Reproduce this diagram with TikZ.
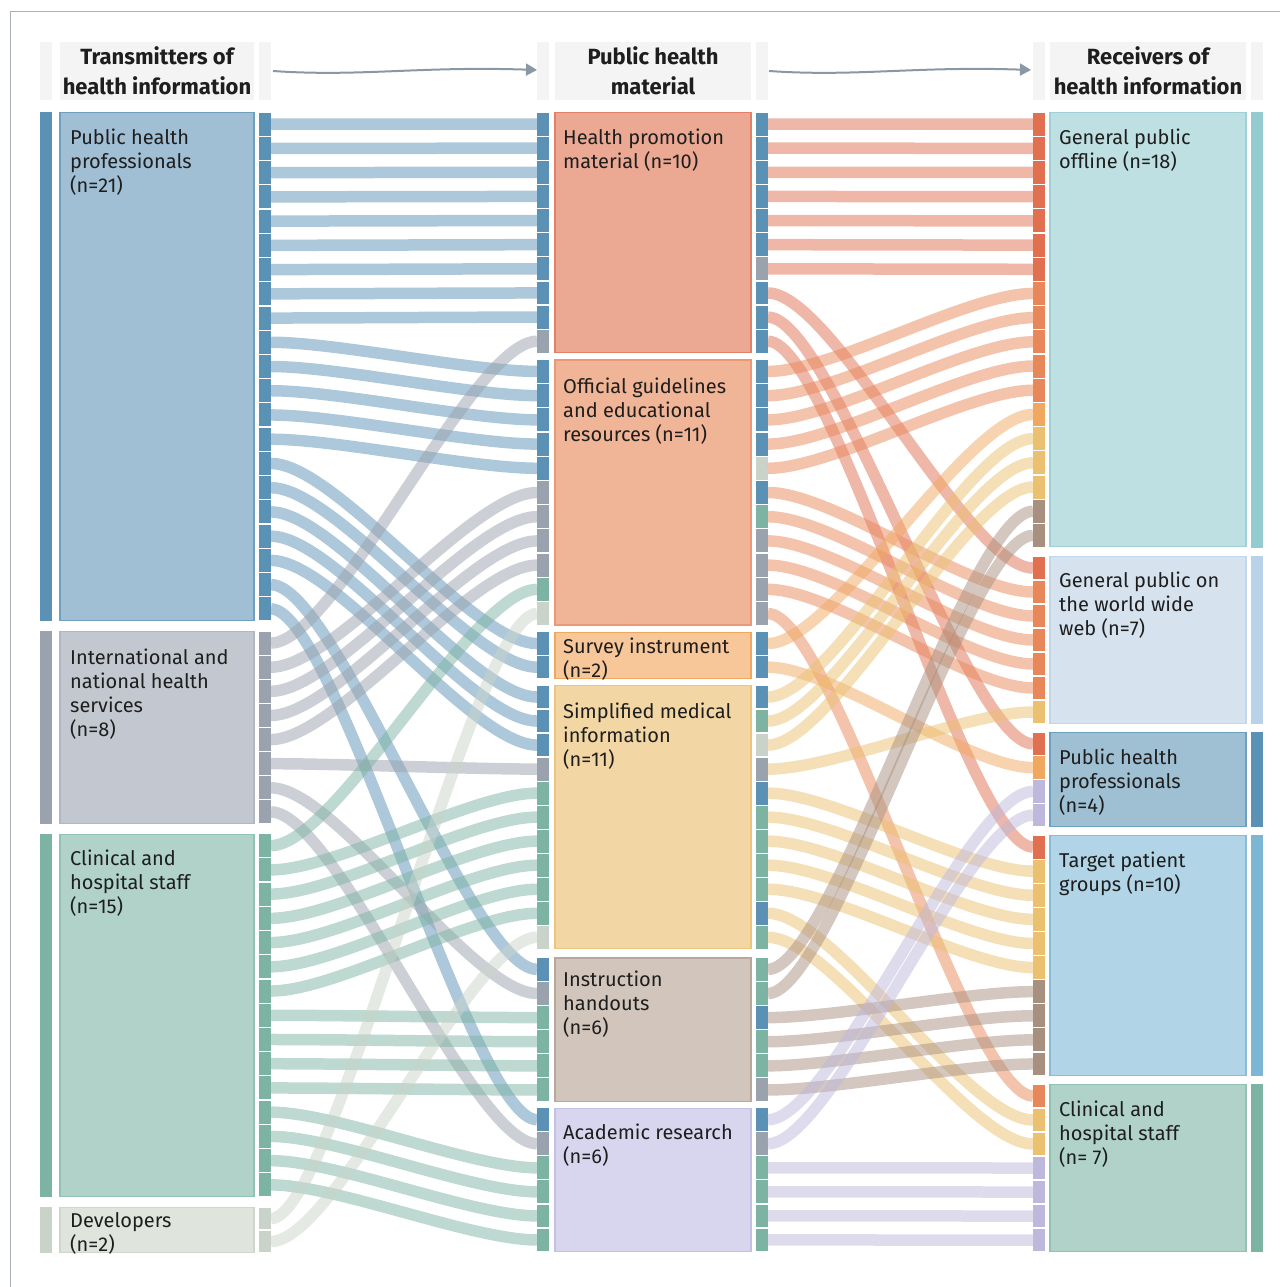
\documentclass[tikz,border=0pt]{standalone}
\usepackage{fontspec}
\setmainfont{Fira Sans}
\newfontfamily\hdrfont{Fira Sans}
\usetikzlibrary{calc,arrows.meta}
\definecolor{cB}{HTML}{5B91B5}
\definecolor{cG}{HTML}{9AA2AD}
\definecolor{cC}{HTML}{7DB3A3}
\definecolor{cD}{HTML}{C9D3C9}
\definecolor{cHP}{HTML}{E07050}
\definecolor{cOG}{HTML}{E8875A}
\definecolor{cSV}{HTML}{F0A860}
\definecolor{cSM}{HTML}{EBC070}
\definecolor{cIN}{HTML}{A89080}
\definecolor{cAC}{HTML}{BDB8DC}
\definecolor{txtc}{HTML}{1E1E1E}
\definecolor{hdrc}{HTML}{F4F4F4}
\definecolor{arrc}{HTML}{8A98A6}
\definecolor{framec}{HTML}{A9B0B8}
\definecolor{barGPO}{HTML}{93CBD0}
\definecolor{barGPW}{HTML}{BAD2E8}
\definecolor{barTPG}{HTML}{7DB5D4}
\newcommand\bfnt{\fontsize{20}{24}\selectfont}
\newcommand\hfnt{\hdrfont\bfseries\fontsize{22}{30}\selectfont}
\tikzset{
  flw/.style={draw=#1, draw opacity=0.5, line width=11.5},
  btxt/.style={anchor=base west, inner sep=0, font=\bfnt, text=txtc},
  htxt/.style={anchor=base, inner sep=0, font=\hfnt, text=txtc},
  hdrbg/.style={fill=hdrc},
  harrow/.style={draw=arrc, line width=2, -{Triangle[length=11,width=12]}},
  boxs/.style={line width=1.3},
}
% name, top, bottom, n, x1, x2, xcoord, colours
\newcommand\ports[8]{%
  \pgfmathsetmacro\ph{(#3-#2)/#4}%
  \foreach \c [count=\i] in {#8} {%
    \fill[fill=\c] (#5,{#2+(\i-1)*\ph+0.6}) rectangle (#6,{#2+\i*\ph-0.6});
    \coordinate (#1-\i) at (#7,{#2+(\i-0.5)*\ph});
  }}
\newcommand\fl[3]{\draw[flw=#1] (#2) .. controls ($(#2)+(65,0)$) and ($(#3)+(-65,0)$) .. (#3);}
\newcommand\btext[4]{%
  \foreach \l [count=\k] in {#4} {\node[btxt] (#1-\k) at (#2,{#3+24*(\k-1)}) {\l};}}
\begin{document}
\begin{tikzpicture}[x=1pt,y=-1pt]
\useasboundingbox (0,0) rectangle (1279,1287);
% frame
\draw[framec, line width=1] (10,1300) -- (10,12) -- (1285,12);
% header backgrounds
\foreach \a/\b in {40/52,60/254,259/271,537/549,555/751,756/768,1033/1045,1050/1246,1251/1263}
  \fill[hdrbg] (\a,42) rectangle (\b,100);
\node[htxt] (h1a) at (157,65) {Transmitters of};
\node[htxt] (h1b) at (157,95) {health information};
\node[htxt] (h2a) at (653,65) {Public health};
\node[htxt] (h2b) at (653,95) {material};
\node[htxt] (h3a) at (1148,65) {Receivers of};
\node[htxt] (h3b) at (1148,95) {health information};
\coordinate (a1s) at (273,71);
\coordinate (a1e) at (537,70);
\coordinate (a2s) at (769,71);
\coordinate (a2e) at (1031,70);
\draw[harrow] (a1s) .. controls (360,77) and (420,66) .. (a1e);
\draw[harrow] (a2s) .. controls (856,77) and (916,66) .. (a2e);

% ---------- ports ----------
\ports{LA}{112}{621}{21}{259}{271}{271}{cB,cB,cB,cB,cB,cB,cB,cB,cB,cB,cB,cB,cB,cB,cB,cB,cB,cB,cB,cB,cB}
\ports{LB}{631}{824}{8}{259}{271}{271}{cG,cG,cG,cG,cG,cG,cG,cG}
\ports{LC}{833.5}{1197}{15}{259}{271}{271}{cC,cC,cC,cC,cC,cC,cC,cC,cC,cC,cC,cC,cC,cC,cC}
\ports{LD}{1207}{1253}{2}{259}{271}{271}{cD,cD}

\ports{MAi}{112}{353.3}{10}{537}{549}{537}{cB,cB,cB,cB,cB,cB,cB,cB,cB,cG}
\ports{MBi}{359.3}{625.7}{11}{537}{549}{537}{cB,cB,cB,cB,cB,cG,cG,cG,cG,cC,cD}
\ports{MCi}{631.7}{679}{2}{537}{549}{537}{cB,cB}
\ports{MDi}{685}{949.3}{11}{537}{549}{537}{cB,cB,cB,cG,cC,cC,cC,cC,cC,cC,cD}
\ports{MEi}{957.3}{1102}{6}{537}{549}{537}{cB,cG,cC,cC,cC,cC}
\ports{MFi}{1107.7}{1252}{6}{537}{549}{537}{cB,cG,cC,cC,cC,cC}

\ports{MAo}{112}{353.3}{10}{756}{768}{768}{cB,cB,cB,cB,cB,cB,cG,cB,cB,cB}
\ports{MBo}{359.3}{625.7}{11}{756}{768}{768}{cB,cB,cB,cB,cD,cB,cC,cG,cG,cG,cG}
\ports{MCo}{631.7}{679}{2}{756}{768}{768}{cB,cB}
\ports{MDo}{685}{949.3}{11}{756}{768}{768}{cB,cC,cD,cG,cB,cC,cC,cC,cC,cB,cC}
\ports{MEo}{957.3}{1102}{6}{756}{768}{768}{cC,cC,cB,cC,cC,cG}
\ports{MFo}{1107.7}{1252}{6}{756}{768}{768}{cB,cG,cC,cC,cC,cC}

\ports{RA}{112}{547.5}{18}{1033}{1045}{1033}{cHP,cHP,cHP,cHP,cHP,cHP,cHP,cOG,cOG,cOG,cOG,cOG,cSV,cSM,cSM,cSM,cIN,cIN}
\ports{RB}{556}{724}{7}{1033}{1045}{1033}{cHP,cOG,cOG,cOG,cOG,cOG,cSM}
\ports{RC}{732}{827}{4}{1033}{1045}{1033}{cHP,cSV,cAC,cAC}
\ports{RD}{835}{1076}{10}{1033}{1045}{1033}{cHP,cSM,cSM,cSM,cSM,cSM,cIN,cIN,cIN,cIN}
\ports{RE}{1084}{1252}{7}{1033}{1045}{1033}{cOG,cSM,cSM,cAC,cAC,cAC,cAC}

% ---------- stage 1 flows ----------
\foreach \i in {1,...,9} {\fl{cB}{LA-\i}{MAi-\i}}
\foreach \i/\j in {10/1,11/2,12/3,13/4,14/5} {\fl{cB}{LA-\i}{MBi-\j}}
\fl{cB}{LA-15}{MCi-1}
\fl{cB}{LA-16}{MCi-2}
\fl{cB}{LA-17}{MDi-1}
\fl{cB}{LA-18}{MDi-2}
\fl{cB}{LA-19}{MDi-3}
\fl{cB}{LA-20}{MEi-1}
\fl{cB}{LA-21}{MFi-1}
\fl{cG}{LB-1}{MAi-10}
\foreach \i/\j in {2/6,3/7,4/8,5/9} {\fl{cG}{LB-\i}{MBi-\j}}
\fl{cG}{LB-6}{MDi-4}
\fl{cG}{LB-7}{MEi-2}
\fl{cG}{LB-8}{MFi-2}
\fl{cC}{LC-1}{MBi-10}
\foreach \i/\j in {2/5,3/6,4/7,5/8,6/9,7/10} {\fl{cC}{LC-\i}{MDi-\j}}
\foreach \i/\j in {8/3,9/4,10/5,11/6} {\fl{cC}{LC-\i}{MEi-\j}}
\foreach \i/\j in {12/3,13/4,14/5,15/6} {\fl{cC}{LC-\i}{MFi-\j}}
\fl{cD}{LD-1}{MBi-11}
\fl{cD}{LD-2}{MDi-11}

% ---------- stage 2 flows ----------
\foreach \i in {1,...,7} {\fl{cHP}{MAo-\i}{RA-\i}}
\fl{cHP}{MAo-8}{RB-1}
\fl{cHP}{MAo-9}{RC-1}
\fl{cHP}{MAo-10}{RD-1}
\foreach \i/\j in {1/8,2/9,3/10,4/11,5/12} {\fl{cOG}{MBo-\i}{RA-\j}}
\foreach \i/\j in {6/2,7/3,8/4,9/5,10/6} {\fl{cOG}{MBo-\i}{RB-\j}}
\fl{cOG}{MBo-11}{RE-1}
\fl{cSV}{MCo-1}{RA-13}
\fl{cSV}{MCo-2}{RC-2}
\foreach \i/\j in {1/14,2/15,3/16} {\fl{cSM}{MDo-\i}{RA-\j}}
\fl{cSM}{MDo-4}{RB-7}
\foreach \i/\j in {5/2,6/3,7/4,8/5,9/6} {\fl{cSM}{MDo-\i}{RD-\j}}
\fl{cSM}{MDo-10}{RE-2}
\fl{cSM}{MDo-11}{RE-3}
\fl{cIN}{MEo-1}{RA-17}
\fl{cIN}{MEo-2}{RA-18}
\foreach \i/\j in {3/7,4/8,5/9,6/10} {\fl{cIN}{MEo-\i}{RD-\j}}
\fl{cAC}{MFo-1}{RC-3}
\fl{cAC}{MFo-2}{RC-4}
\foreach \i/\j in {3/4,4/5,5/6,6/7} {\fl{cAC}{MFo-\i}{RE-\j}}

% ---------- left bars and boxes ----------
\fill[cB] (40,112) rectangle (52,621);
\fill[cG] (40,631) rectangle (52,824);
\fill[cC] (40,833.5) rectangle (52,1197);
\fill[cD] (40,1207) rectangle (52,1253);
\filldraw[boxs, fill={rgb,255:red,160;green,191;blue,212}, draw={rgb,255:red,112;green,160;blue,192}] (60,112.7) rectangle (254,620.3);
\filldraw[boxs, fill={rgb,255:red,195;green,200;blue,208}, draw={rgb,255:red,178;green,184;blue,193}] (60,631.7) rectangle (254,823.3);
\filldraw[boxs, fill={rgb,255:red,176;green,210;blue,200}, draw={rgb,255:red,146;green,194;blue,180}] (60,834.2) rectangle (254,1196.3);
\filldraw[boxs, fill={rgb,255:red,223;green,228;blue,221}, draw={rgb,255:red,206;green,214;blue,205}] (60,1207.7) rectangle (254,1252.3);

% ---------- middle boxes ----------
\filldraw[boxs, fill={rgb,255:red,235;green,168;blue,147}, draw={rgb,255:red,228;green,128;blue,104}] (555,112.7) rectangle (751,352.6);
\filldraw[boxs, fill={rgb,255:red,240;green,180;blue,150}, draw={rgb,255:red,236;green,152;blue,118}] (555,360) rectangle (751,625);
\filldraw[boxs, fill={rgb,255:red,247;green,198;blue,153}, draw={rgb,255:red,240;green,168;blue,96}] (555,632.4) rectangle (751,678.3);
\filldraw[boxs, fill={rgb,255:red,242;green,214;blue,164}, draw={rgb,255:red,236;green,196;blue,122}] (555,685.7) rectangle (751,948.6);
\filldraw[boxs, fill={rgb,255:red,210;green,198;blue,188}, draw={rgb,255:red,185;green,168;blue,154}] (555,958) rectangle (751,1101.3);
\filldraw[boxs, fill={rgb,255:red,216;green,213;blue,238}, draw={rgb,255:red,197;green,192;blue,226}] (555,1108.4) rectangle (751,1251.3);

% ---------- right boxes and bars ----------
\filldraw[boxs, fill={rgb,255:red,191;green,224;blue,226}, draw={rgb,255:red,159;green,208;blue,213}] (1050,112.7) rectangle (1246,546.8);
\filldraw[boxs, fill={rgb,255:red,214;green,227;blue,239}, draw={rgb,255:red,196;green,215;blue,234}] (1050,556.7) rectangle (1246,723.3);
\filldraw[boxs, fill={rgb,255:red,159;green,191;blue,211}, draw={rgb,255:red,109;green,159;blue,192}] (1050,732.7) rectangle (1246,826.3);
\filldraw[boxs, fill={rgb,255:red,177;green,213;blue,231}, draw={rgb,255:red,136;green,189;blue,217}] (1050,835.7) rectangle (1246,1075.3);
\filldraw[boxs, fill={rgb,255:red,176;green,210;blue,200}, draw={rgb,255:red,146;green,194;blue,180}] (1050,1084.7) rectangle (1246,1251.3);
\fill[barGPO] (1251,112) rectangle (1263,547.5);
\fill[barGPW] (1251,556) rectangle (1263,724);
\fill[cB] (1251,732) rectangle (1263,827);
\fill[barTPG] (1251,835) rectangle (1263,1076);
\fill[cC] (1251,1084) rectangle (1263,1252);

% ---------- texts ----------
\btext{tLA}{70}{144}{Public health,professionals,(n=21)}
\btext{tLB}{70}{664}{International and,national health,services,(n=8)}
\btext{tLC}{70}{865}{Clinical and,hospital staff,(n=15)}
\btext{tLD}{70}{1227}{Developers,(n=2)}
\btext{tMA}{563}{144}{Health promotion,material (n=10)}
\btext{tMB}{563}{393}{Official guidelines,and educational,resources (n=11)}
\btext{tMC}{563}{653}{Survey instrument,(n=2)}
\btext{tMD}{563}{718}{Simplified medical,information,(n=11)}
\btext{tME}{563}{986}{Instruction,handouts,(n=6)}
\btext{tMF}{563}{1139}{Academic research,(n=6)}
\btext{tRA}{1059}{144}{General public,offline (n=18)}
\btext{tRB}{1059}{587}{General public on,the world wide,web (n=7)}
\btext{tRC}{1059}{764}{Public health,professionals,(n=4)}
\btext{tRD}{1059}{867}{Target patient,groups (n=10)}
\btext{tRE}{1059}{1116}{Clinical and,hospital staff,(n= 7)}
\end{tikzpicture}
\end{document}
